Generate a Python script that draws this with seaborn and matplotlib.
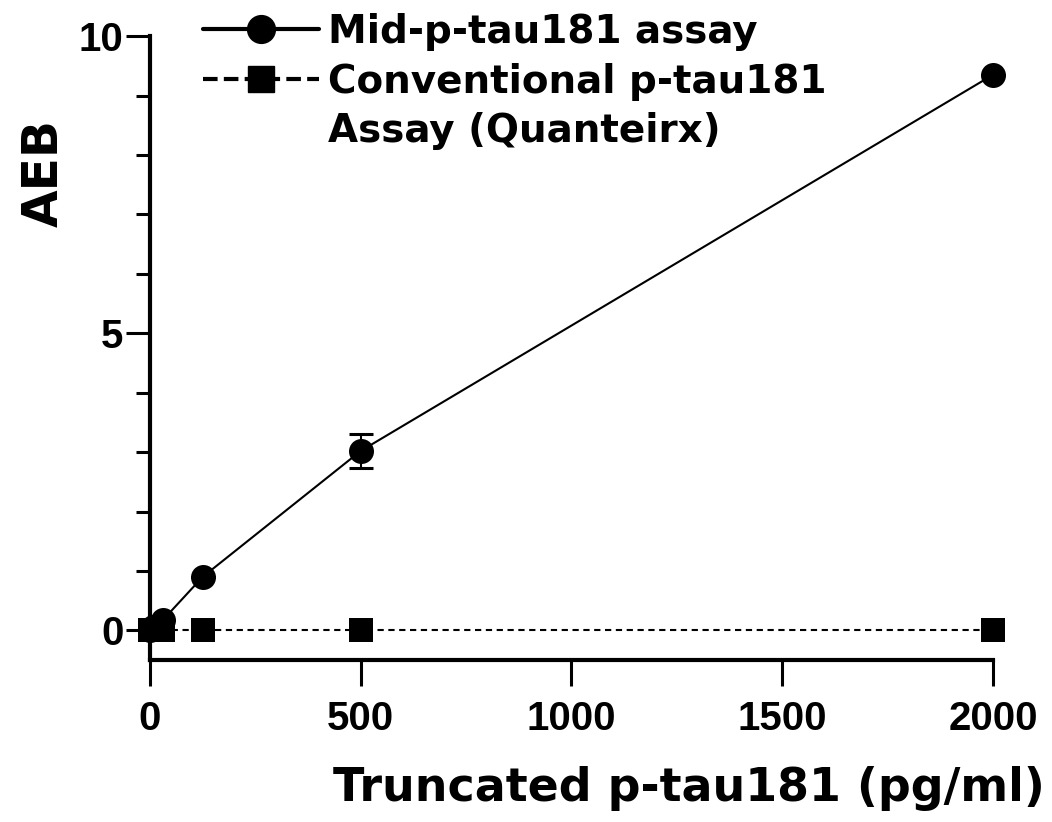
"""Truncated p-tau181 spike recovery: AEB vs concentration"""
import matplotlib
matplotlib.use("Agg")
import matplotlib.pyplot as plt
from matplotlib.lines import Line2D
from matplotlib.ticker import MultipleLocator
import seaborn as sns
import pandas as pd

# values
conc = [0, 7.8, 31.25, 125, 500, 2000]
mid_aeb = [0.0, 0.05, 0.18, 0.9, 3.02, 9.35]
mid_err = [0.0, 0.0, 0.0, 0.0, 0.28, 0.0]
conv_aeb = [0.0, 0.0, 0.0, 0.0, 0.0, 0.0]
series_labels = ["Mid-p-tau181 assay", "Conventional p-tau181", "Assay (Quanteirx)"]
x_ticks = [0, 500, 1000, 1500, 2000]
y_ticks = [0, 5, 10]

df = pd.DataFrame({"conc": conc, "mid": mid_aeb, "err": mid_err, "conv": conv_aeb})

sns.set_style("ticks", {"axes.edgecolor": "black", "text.color": "black",
                        "xtick.color": "black", "ytick.color": "black",
                        "axes.labelcolor": "black"})
plt.rcParams["font.family"] = ["DejaVu Sans"]

fig = plt.figure(figsize=(10.52, 8.22), dpi=100)
ax = fig.add_axes([0.1426, 0.197, 0.8013, 0.759])

# conventional assay: dashed line, squares
sns.lineplot(data=df, x="conc", y="conv", ax=ax, color="black", lw=1.5,
             linestyle=(0, (3, 2.2)), marker="s", markersize=17,
             markeredgewidth=0, clip_on=False, zorder=3)
# mid-region assay: solid line, circles, SD bars
ax.errorbar(df["conc"], df["mid"], yerr=df["err"], fmt="none", ecolor="black",
            elinewidth=1.5, capsize=8.5, capthick=2.2, clip_on=False, zorder=4)
sns.lineplot(data=df, x="conc", y="mid", ax=ax, color="black", lw=1.5,
             marker="o", markersize=18, markeredgewidth=0,
             clip_on=False, zorder=5)

ax.set_xlim(0, 2000)
ax.set_ylim(-0.5, 10)
ax.set_xticks(x_ticks)
ax.set_yticks(y_ticks)
ax.yaxis.set_minor_locator(MultipleLocator(1))
sns.despine(ax=ax)
for s in ["left", "bottom"]:
    ax.spines[s].set_linewidth(3)
ax.tick_params(axis="y", which="major", length=17, width=2.2, pad=2)
ax.tick_params(axis="y", which="minor", length=10, width=2.2)
ax.tick_params(axis="x", which="major", length=19, width=2.2, pad=10)
for lab in ax.get_xticklabels() + ax.get_yticklabels():
    lab.set_family(["Liberation Sans"])
    lab.set_fontweight("bold")
    lab.set_fontsize(29)

ax.set_xlabel("Truncated p-tau181 (pg/ml)", fontsize=33, fontweight="bold")
ax.xaxis.set_label_coords(1.062, -0.17, transform=ax.transAxes)
ax.xaxis.label.set_ha("right")
ax.set_ylabel("AEB", fontsize=35, fontweight="bold")
ax.yaxis.set_label_coords(-0.098, 0.78)

handles = [
    Line2D([], [], color="black", lw=3, marker="o", markersize=20),
    Line2D([], [], color="black", lw=3, linestyle=(0, (3.5, 1.5)), marker="s",
           markersize=19),
    Line2D([], [], color="none"),
]
fig.legend(handles, series_labels, loc="upper left",
           bbox_to_anchor=(0.178, 1.003), frameon=False,
           prop={"weight": "bold", "size": 28}, handlelength=3.0,
           handletextpad=0.22, labelspacing=0.3, borderaxespad=0)

fig.savefig("out.png", dpi=100)
